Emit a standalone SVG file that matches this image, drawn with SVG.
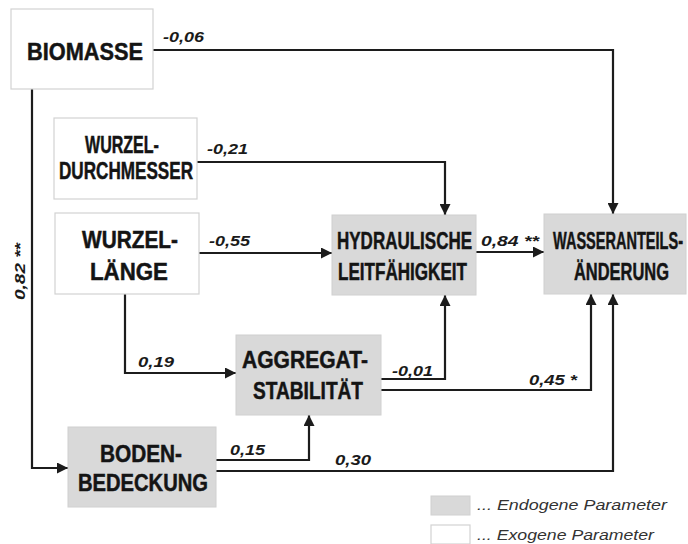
<svg xmlns="http://www.w3.org/2000/svg" width="688" height="544" viewBox="0 0 688 544">
  <style>
    .exo { fill: #ffffff; stroke: #d2d2d2; stroke-width: 1.2; }
    .endo { fill: #d9d9d9; stroke: #d0d0d0; stroke-width: 1; }
    .node { font-family: "Liberation Sans", Arial, sans-serif; font-weight: bold; font-size: 24px; fill: #141414; stroke: #141414; stroke-width: 0.5; text-anchor: start; }
    .coef { font-family: "Liberation Sans", Arial, sans-serif; font-weight: bold; font-style: italic; font-size: 15px; fill: #1a1a1a; }
    .legend { font-family: "Liberation Sans", Arial, sans-serif; font-style: italic; font-size: 15.5px; fill: #333333; }
    .edge { fill: none; stroke: #1c1c1c; stroke-width: 2.2; stroke-linejoin: miter; }
  </style>
  <defs>
    <marker id="arrow" markerUnits="userSpaceOnUse" markerWidth="12" markerHeight="11" refX="11" refY="5.5" orient="auto">
      <path d="M0,0 L11,5.5 L0,11 z" fill="#1c1c1c"/>
    </marker>
  </defs>

  <rect width="688" height="544" fill="#ffffff"/>

  <!-- connectors -->
  <g id="connectors">
    <path class="edge" d="M153,50 H613 V214" marker-end="url(#arrow)"/>
    <path class="edge" d="M197,162 H445 V215" marker-end="url(#arrow)"/>
    <path class="edge" d="M199,253 H332" marker-end="url(#arrow)"/>
    <path class="edge" d="M476,252 H544" marker-end="url(#arrow)"/>
    <path class="edge" d="M125,294 V373 H236" marker-end="url(#arrow)"/>
    <path class="edge" d="M381,379 H445 V295" marker-end="url(#arrow)"/>
    <path class="edge" d="M381,390 H591 V294" marker-end="url(#arrow)"/>
    <path class="edge" d="M32,89 V468 H68" marker-end="url(#arrow)"/>
    <path class="edge" d="M216,460 H309 V415" marker-end="url(#arrow)"/>
    <path class="edge" d="M216,471 H613 V294" marker-end="url(#arrow)"/>

    <text class="coef" x="163" y="42" textLength="41" lengthAdjust="spacingAndGlyphs">-0,06</text>
    <text class="coef" x="207" y="154" textLength="41" lengthAdjust="spacingAndGlyphs">-0,21</text>
    <text class="coef" x="209" y="246" textLength="41" lengthAdjust="spacingAndGlyphs">-0,55</text>
    <text class="coef" x="138" y="367" textLength="36" lengthAdjust="spacingAndGlyphs">0,19</text>
    <text class="coef" x="481" y="246" textLength="58" lengthAdjust="spacingAndGlyphs">0,84 **</text>
    <text class="coef" x="392" y="376" textLength="41" lengthAdjust="spacingAndGlyphs">-0,01</text>
    <text class="coef" x="529" y="385" textLength="48" lengthAdjust="spacingAndGlyphs">0,45 *</text>
    <text class="coef" x="230" y="455" textLength="35" lengthAdjust="spacingAndGlyphs">0,15</text>
    <text class="coef" x="335" y="465" textLength="36" lengthAdjust="spacingAndGlyphs">0,30</text>
    <text class="coef" transform="translate(25,300) rotate(-90)" x="0" y="0" textLength="57" lengthAdjust="spacingAndGlyphs">0,82 **</text>
  </g>

  <!-- nodes: labels are condensed horizontally with a scale transform -->
  <g id="biomasse">
    <rect class="exo" x="11" y="9" width="142" height="80"/>
    <text class="node" font-size="25" transform="translate(27,60) scale(0.87,1)" textLength="133.3" lengthAdjust="spacingAndGlyphs">BIOMASSE</text>
  </g>

  <g id="wurzeldurchmesser">
    <rect class="exo" x="54" y="118" width="143" height="81"/>
    <text class="node" transform="translate(85,153) scale(0.67,1)" textLength="110.4" lengthAdjust="spacingAndGlyphs">WURZEL-</text>
    <text class="node" transform="translate(59,179) scale(0.713,1)" textLength="188" lengthAdjust="spacingAndGlyphs">DURCHMESSER</text>
  </g>

  <g id="wurzellaenge">
    <rect class="exo" x="55" y="213" width="144" height="81"/>
    <text class="node" font-size="25" transform="translate(82,248) scale(0.833,1)" textLength="115.2" lengthAdjust="spacingAndGlyphs">WURZEL-</text>
    <text class="node" font-size="25" transform="translate(90,280) scale(0.89,1)" textLength="87.6" lengthAdjust="spacingAndGlyphs">LÄNGE</text>
  </g>

  <g id="hydraulische-leitfaehigkeit">
    <rect class="endo" x="332" y="215" width="144" height="80"/>
    <text class="node" transform="translate(337,249) scale(0.708,1)" textLength="190.7" lengthAdjust="spacingAndGlyphs">HYDRAULISCHE</text>
    <text class="node" transform="translate(338,280) scale(0.711,1)" textLength="181.4" lengthAdjust="spacingAndGlyphs">LEITFÄHIGKEIT</text>
  </g>

  <g id="wasseranteilsaenderung">
    <rect class="endo" x="544" y="214" width="142" height="80"/>
    <text class="node" transform="translate(553,249) scale(0.602,1)" textLength="216" lengthAdjust="spacingAndGlyphs">WASSERANTEILS-</text>
    <text class="node" transform="translate(574,280) scale(0.685,1)" textLength="138.7" lengthAdjust="spacingAndGlyphs">ÄNDERUNG</text>
  </g>

  <g id="aggregatstabilitaet">
    <rect class="endo" x="236" y="335" width="145" height="80"/>
    <text class="node" font-size="25" transform="translate(242,368) scale(0.825,1)" textLength="152.7" lengthAdjust="spacingAndGlyphs">AGGREGAT-</text>
    <text class="node" transform="translate(253,399) scale(0.786,1)" textLength="140" lengthAdjust="spacingAndGlyphs">STABILITÄT</text>
  </g>

  <g id="bodenbedeckung">
    <rect class="endo" x="68" y="427" width="148" height="80"/>
    <text class="node" transform="translate(100,462) scale(0.866,1)" textLength="94.7" lengthAdjust="spacingAndGlyphs">BODEN-</text>
    <text class="node" transform="translate(78,491) scale(0.84,1)" textLength="154.8" lengthAdjust="spacingAndGlyphs">BEDECKUNG</text>
  </g>

  <!-- legend -->
  <g id="legend">
    <rect x="431" y="496" width="39" height="19" fill="#d9d9d9" stroke="#d0d0d0" stroke-width="1"/>
    <text class="legend" x="477" y="510" textLength="190" lengthAdjust="spacingAndGlyphs">... Endogene Parameter</text>
    <rect x="431" y="525" width="39" height="19" fill="#ffffff" stroke="#d2d2d2" stroke-width="1.2"/>
    <text class="legend" x="477" y="540" textLength="177" lengthAdjust="spacingAndGlyphs">... Exogene Parameter</text>
  </g>
</svg>
